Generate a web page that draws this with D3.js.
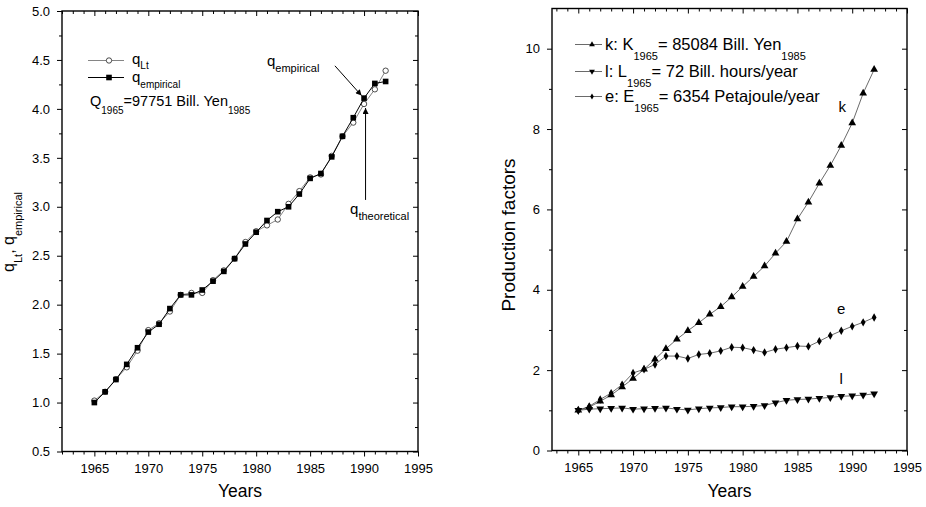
<!DOCTYPE html>
<html>
<head>
<meta charset="utf-8">
<script src="https://cdn.jsdelivr.net/npm/d3@7/dist/d3.min.js"></script>
<style>
  body { margin: 0; background: #fff; }
  svg { display: block; font-family: Arial, "Liberation Sans", sans-serif; }
</style>
</head>
<body>
<div id="chart"></div>
<script>
// data (1965 = 1)
const years = [1965, 1966, 1967, 1968, 1969, 1970, 1971, 1972, 1973, 1974,
  1975, 1976, 1977, 1978, 1979, 1980, 1981, 1982, 1983, 1984,
  1985, 1986, 1987, 1988, 1989, 1990, 1991, 1992];

const qLt = [1.02, 1.11, 1.24, 1.36, 1.53, 1.74, 1.81, 1.93, 2.10, 2.12,
  2.12, 2.25, 2.35, 2.47, 2.64, 2.75, 2.81, 2.87, 3.03, 3.16,
  3.30, 3.33, 3.52, 3.72, 3.86, 4.05, 4.20, 4.39];
const qEmpirical = [1.00, 1.11, 1.235, 1.39, 1.56, 1.72, 1.80, 1.96, 2.10, 2.10,
  2.15, 2.24, 2.34, 2.47, 2.62, 2.74, 2.86, 2.95, 3.00, 3.13,
  3.29, 3.34, 3.51, 3.72, 3.91, 4.11, 4.26, 4.28];

const kFactor = [1.00, 1.08, 1.225, 1.38, 1.58, 1.79, 2.02, 2.27, 2.53, 2.77,
  2.98, 3.18, 3.39, 3.58, 3.82, 4.08, 4.33, 4.59, 4.91, 5.20,
  5.76, 6.18, 6.65, 7.09, 7.59, 8.15, 8.89, 9.48];
const lFactor = [1.00, 1.03, 1.04, 1.05, 1.06, 1.03, 1.04, 1.05, 1.06, 1.03,
  1.01, 1.04, 1.06, 1.07, 1.09, 1.09, 1.10, 1.12, 1.19, 1.25,
  1.27, 1.28, 1.30, 1.32, 1.35, 1.36, 1.38, 1.41];
const eFactor = [1.00, 1.10, 1.27, 1.43, 1.64, 1.93, 2.02, 2.14, 2.35, 2.35,
  2.29, 2.39, 2.42, 2.48, 2.57, 2.56, 2.50, 2.44, 2.52, 2.56,
  2.60, 2.59, 2.72, 2.86, 2.98, 3.09, 3.19, 3.31];

const yearTicks = [1965, 1970, 1975, 1980, 1985, 1990, 1995];
const qTicks = [0.5, 1.0, 1.5, 2.0, 2.5, 3.0, 3.5, 4.0, 4.5, 5.0];
const factorTicks = [0, 2, 4, 6, 8, 10];

const W = 926, H = 507;

const svg = d3.select('#chart')
  .append('svg')
  .attr('width', W)
  .attr('height', H);

svg.append('rect').attr('width', W).attr('height', H).attr('fill', '#fff');

// frames of the two plots (pixels)
const BOX_L = { x0: 62, x1: 418, y0: 11, y1: 451.5 };
const BOX_R = { x0: 552, x1: 907, y0: 8.5, y1: 450.5 };

const xL = d3.scaleLinear().domain([1962, 1995]).range([BOX_L.x0, BOX_L.x1]);
const yL = d3.scaleLinear().domain([0.5, 5]).range([BOX_L.y1, BOX_L.y0]);
const xR = d3.scaleLinear().domain([1962.6, 1995]).range([BOX_R.x0, BOX_R.x1]);
const yR = d3.scaleLinear().domain([0, 11]).range([BOX_R.y1, BOX_R.y0]);

// text with subscripts: parts = [[text, isSub], ...]
function richText(sel, parts, mainSize, subSize, subDy) {
  let down = false;
  parts.forEach(([t, sub]) => {
    const ts = sel.append('tspan').text(t).attr('font-size', sub ? subSize : mainSize);
    if (sub && !down) { ts.attr('dy', subDy); down = true; }
    else if (!sub && down) { ts.attr('dy', -subDy); down = false; }
  });
  return sel;
}

function styleAxis(g) {
  g.select('.domain').remove();
  g.selectAll('.tick line').attr('stroke', '#000').attr('stroke-width', 1);
  g.selectAll('.tick text').attr('fill', '#000').attr('font-size', 13)
    .attr('font-family', 'Arial, "Liberation Sans", sans-serif');
}

function drawAxes(x, y, box, yMajor, yMinor, yFmt) {
  const xMajor = yearTicks;
  const [xa, xb] = x.domain();
  const xMinor = d3.range(Math.ceil(xa), xb + 0.5, 1).filter((d) => !xMajor.includes(d));
  const axes = svg.append('g');

  // bottom, outward
  axes.append('g').attr('transform', `translate(0,${box.y1})`)
    .call(d3.axisBottom(x).tickValues(xMajor).tickSize(5).tickPadding(7).tickFormat(d3.format('d')))
    .call(styleAxis);
  axes.append('g').attr('transform', `translate(0,${box.y1})`)
    .call(d3.axisBottom(x).tickValues(xMinor).tickSize(3).tickFormat(''))
    .call(styleAxis);
  // top, inward
  axes.append('g').attr('transform', `translate(0,${box.y0})`)
    .call(d3.axisTop(x).tickValues(xMajor).tickSize(-5).tickFormat(''))
    .call(styleAxis);
  axes.append('g').attr('transform', `translate(0,${box.y0})`)
    .call(d3.axisTop(x).tickValues(xMinor).tickSize(-3).tickFormat(''))
    .call(styleAxis);
  // left, outward
  axes.append('g').attr('transform', `translate(${box.x0},0)`)
    .call(d3.axisLeft(y).tickValues(yMajor).tickSize(5).tickPadding(7).tickFormat(yFmt))
    .call(styleAxis);
  axes.append('g').attr('transform', `translate(${box.x0},0)`)
    .call(d3.axisLeft(y).tickValues(yMinor).tickSize(3).tickFormat(''))
    .call(styleAxis);
  // right, inward
  axes.append('g').attr('transform', `translate(${box.x1},0)`)
    .call(d3.axisRight(y).tickValues(yMajor).tickSize(-5).tickFormat(''))
    .call(styleAxis);
  axes.append('g').attr('transform', `translate(${box.x1},0)`)
    .call(d3.axisRight(y).tickValues(yMinor).tickSize(-3).tickFormat(''))
    .call(styleAxis);

  axes.append('rect')
    .attr('x', box.x0).attr('y', box.y0)
    .attr('width', box.x1 - box.x0).attr('height', box.y1 - box.y0)
    .attr('fill', 'none').attr('stroke', '#000').attr('stroke-width', 1.4);

  axes.append('text')
    .attr('x', (box.x0 + box.x1) / 2).attr('y', 497)
    .attr('text-anchor', 'middle').attr('font-size', 17.5)
    .text('Years');
}

// ---------- left panel ----------
drawAxes(xL, yL, BOX_L, qTicks,
  d3.range(0.75, 5, 0.5), d3.format('.1f'));

richText(
  svg.append('text').attr('text-anchor', 'middle')
    .attr('transform', 'translate(14,232) rotate(-90)'),
  [['q', false], ['Lt', true], [', q', false], ['empirical', true]], 16, 11, 8);

const lineL = (vals) => d3.line().x((d, i) => xL(years[i])).y((d) => yL(d))(vals);

svg.append('path').attr('d', lineL(qLt))
  .attr('fill', 'none').attr('stroke', '#666').attr('stroke-width', 0.8);
svg.append('g').selectAll('circle').data(qLt).join('circle')
  .attr('cx', (d, i) => xL(years[i])).attr('cy', (d) => yL(d)).attr('r', 2.7)
  .attr('fill', '#fff').attr('stroke', '#222').attr('stroke-width', 0.8);

svg.append('path').attr('d', lineL(qEmpirical))
  .attr('fill', 'none').attr('stroke', '#000').attr('stroke-width', 1);
svg.append('g').selectAll('rect').data(qEmpirical).join('rect')
  .attr('x', (d, i) => xL(years[i]) - 2.8).attr('y', (d) => yL(d) - 2.8)
  .attr('width', 5.6).attr('height', 5.6).attr('fill', '#000');

// legend
const legL = svg.append('g');
legL.append('line').attr('x1', 88).attr('x2', 124).attr('y1', 60.5).attr('y2', 60.5)
  .attr('stroke', '#666').attr('stroke-width', 0.8);
legL.append('circle').attr('cx', 109).attr('cy', 60.5).attr('r', 2.7)
  .attr('fill', '#fff').attr('stroke', '#222').attr('stroke-width', 0.8);
legL.append('line').attr('x1', 88).attr('x2', 124).attr('y1', 77.5).attr('y2', 77.5)
  .attr('stroke', '#000').attr('stroke-width', 1);
legL.append('rect').attr('x', 106.2).attr('y', 74.7).attr('width', 5.6).attr('height', 5.6)
  .attr('fill', '#000');
richText(legL.append('text').attr('x', 132).attr('y', 63.5),
  [['q', false], ['Lt', true]], 15, 10, 5);
richText(legL.append('text').attr('x', 132).attr('y', 81.5),
  [['q', false], ['empirical', true]], 15, 10, 6);
richText(legL.append('text').attr('x', 90).attr('y', 105.5),
  [['Q', false], ['1965', true], ['=97751 Bill. Yen', false], ['1985', true]], 14.5, 10, 8);

// annotations with arrows
const defs = svg.append('defs');
defs.append('marker').attr('id', 'arrowHead')
  .attr('viewBox', '0 0 10 10').attr('refX', 10).attr('refY', 5)
  .attr('markerWidth', 10).attr('markerHeight', 6).attr('markerUnits', 'userSpaceOnUse')
  .attr('orient', 'auto')
  .append('path').attr('d', 'M0,0 L10,5 L0,10 Z').attr('fill', '#000');

const i1990 = years.indexOf(1990);
richText(svg.append('text').attr('x', xL(1981.0)).attr('y', yL(4.44)),
  [['q', false], ['empirical', true]], 15, 11, 6);
svg.append('line')
  .attr('x1', xL(1987.3)).attr('y1', yL(4.44))
  .attr('x2', xL(1990) - 2.5).attr('y2', yL(qEmpirical[i1990]) - 2.5)
  .attr('stroke', '#000').attr('stroke-width', 1)
  .attr('marker-end', 'url(#arrowHead)');

richText(svg.append('text').attr('x', xL(1988.7)).attr('y', yL(2.93)),
  [['q', false], ['theoretical', true]], 15, 11, 6);
svg.append('line')
  .attr('x1', xL(1990) + 1.5).attr('y1', yL(3.07))
  .attr('x2', xL(1990) + 1.5).attr('y2', yL(qLt[i1990]) + 4)
  .attr('stroke', '#000').attr('stroke-width', 1)
  .attr('marker-end', 'url(#arrowHead)');

// ---------- right panel ----------
drawAxes(xR, yR, BOX_R, factorTicks, d3.range(1, 11, 2), d3.format('d'));

svg.append('text').attr('text-anchor', 'middle')
  .attr('transform', 'translate(515,235) rotate(-90)')
  .attr('font-size', 19).text('Production factors');

const lineR = (vals) => d3.line().x((d, i) => xR(years[i])).y((d) => yR(d))(vals);
const triUp = d3.symbol().type(d3.symbolTriangle).size(26)();
const diamond = d3.symbol().type(d3.symbolDiamond).size(20)();

const series = [
  { vals: kFactor, sym: triUp, rot: 0 },
  { vals: eFactor, sym: diamond, rot: 0 },
  { vals: lFactor, sym: triUp, rot: 180 },
];

series.forEach((s) => {
  svg.append('path').attr('d', lineR(s.vals))
    .attr('fill', 'none').attr('stroke', '#444').attr('stroke-width', 0.8);
  svg.append('g').selectAll('path').data(s.vals).join('path')
    .attr('d', s.sym)
    .attr('transform', (d, i) => `translate(${xR(years[i])},${yR(d)}) rotate(${s.rot})`)
    .attr('fill', '#000');
});

// curve labels
[['k', 1989.1, 8.42], ['e', 1989.0, 3.40], ['l', 1989.0, 1.66]].forEach(([t, yr, v]) => {
  svg.append('text').attr('x', xR(yr)).attr('y', yR(v))
    .attr('text-anchor', 'middle').attr('font-size', 15).text(t);
});

// legend
const legR = svg.append('g');
const legRows = [
  { sym: triUp, rot: 0, y: 50, parts: [['k: K', false], ['1965', true], ['= 85084 Bill. Yen', false], ['1985', true]] },
  { sym: triUp, rot: 180, y: 77, parts: [['l: L', false], ['1965', true], ['= 72 Bill. hours/year', false]] },
  { sym: diamond, rot: 0, y: 102, parts: [['e: E', false], ['1965', true], ['= 6354 Petajoule/year', false]] },
];
legRows.forEach((r) => {
  legR.append('line').attr('x1', 575).attr('x2', 602).attr('y1', r.y - 5.5).attr('y2', r.y - 5.5)
    .attr('stroke', '#444').attr('stroke-width', 0.8);
  legR.append('path').attr('d', r.sym)
    .attr('transform', `translate(592,${r.y - 5.5}) rotate(${r.rot}) scale(0.75)`)
    .attr('fill', '#000');
  richText(legR.append('text').attr('x', 605).attr('y', r.y), r.parts, 16.5, 11, 9.5);
});
</script>
</body>
</html>
